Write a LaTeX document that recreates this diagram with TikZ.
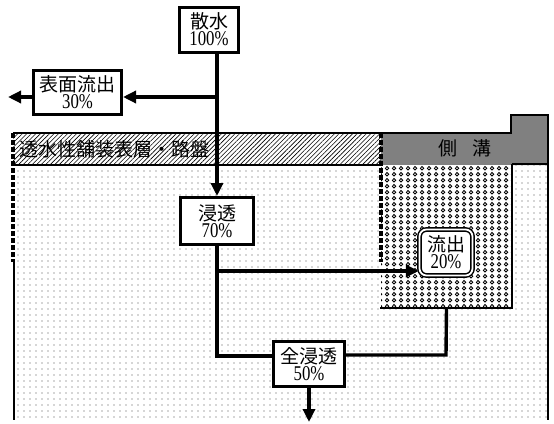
\documentclass[tikz,border=0pt]{standalone}
\usepackage{fontspec}
\usetikzlibrary{arrows.meta,patterns,patterns.meta}
\newfontfamily\jp{Noto Sans CJK JP}
\newfontfamily\numf[FakeStretch=0.8]{Liberation Serif}
\tikzdeclarepattern{
  name=rings,
  type=colored,
  bounding box={(0pt,0pt) and (6.5pt,5.7pt)},
  tile size={(6.5pt,5.7pt)},
  code={\draw[black,line width=0.9pt] (3.25pt,2.85pt) circle [radius=1.8pt];}
}
\begin{document}
\begin{tikzpicture}[x=1pt,y=-1pt,
  flow/.style={line width=3.4pt},
  arr/.style={-{Triangle[length=13pt,width=12pt]}},
  box/.style={draw,line width=3pt,fill=white,inner sep=0pt,align=center,
    font=\fontsize{19}{17}\selectfont},
  num/.style={},
  ryubox/.style={box,line width=1.5pt,double=white,double distance=1.8pt,rounded corners=7pt},
  dotfill/.style={pattern={Dots[distance=6pt,radius=0.55pt]},pattern color=black!70},
  hatchfill/.style={pattern={Lines[angle=45,distance=3.2pt,line width=0.6pt]},pattern color=black},
  edge/.style={line width=2.6pt},
  cutedge/.style={line width=3.2pt,dash pattern=on 5pt off 2pt}
]
\useasboundingbox (0,0) rectangle (554,423);
% ground / layers
\fill[dotfill] (14,165) rectangle (548,418);
\fill[hatchfill] (13,133) rectangle (381,165);
\fill[black!50] (381,133) -- (511,133) -- (511,115) -- (548,115) -- (548,165) -- (381,165) -- cycle;
\node[minimum width=131pt,minimum height=143pt,inner sep=0pt,
  preaction={fill=white},pattern=rings] (gutter) at (446.5,236.5) {};
% outlines
\draw[edge] (13,133) -- (511,133) -- (511,115) -- (548,115) -- (548,420);
\draw[line width=2pt] (13,165) -- (381,165);
\draw[line width=2pt] (512,164) -- (548,164);
\draw[cutedge] (13,133) -- (13,262);
\draw[line width=2.2pt] (14,260) -- (14,420);
\draw[cutedge] (381,133) -- (381,262);
\draw[edge] (512,164) -- (512,308) -- (380,308);
% labels of the layers
\node[anchor=west,inner sep=0pt,font=\fontsize{19}{19}\jp] (layer) at (19,149) {透水性舗装表層・路盤};
\node[inner sep=0pt,font=\fontsize{19}{19}\jp] (sokko) at (465,148) {側\hspace{15pt}溝};
% boxes
\node[box,minimum width=59pt,minimum height=45pt] (sansui) at (209,29.5) {{\jp 散水}\\{\numf\fontsize{21}{17}\selectfont 100\%}};
\node[box,minimum width=88pt,minimum height=44pt] (hyomen) at (77.5,92.5) {{\jp 表面流出}\\{\numf\fontsize{21}{17}\selectfont 30\%}};
\node[box,minimum width=73pt,minimum height=47pt] (shinto) at (217,221) {{\jp 浸透}\\{\numf\fontsize{21}{17}\selectfont 70\%}};
\node[ryubox,minimum width=53pt,minimum height=46pt] (ryu) at (446,252.5) {{\jp 流出}\\{\numf\fontsize{21}{17}\selectfont 20\%}};
\node[box,minimum width=71pt,minimum height=45pt] (zen) at (309,364) {{\jp 全浸透}\\{\numf\fontsize{21}{17}\selectfont 50\%}};
% connectors
\draw[flow,arr] (shinto.north |- sansui.south) -- (shinto.north);
\coordinate (br1) at (217,97);
\draw[flow,arr] (br1) -- (br1 -| hyomen.east);
\coordinate (out1) at (8,97);
\draw[flow,arr] (hyomen.west |- out1) -- (out1);
\coordinate (j1) at (217,356);
\draw[flow] (shinto.south) -- (j1) -- (j1 -| zen.west);
\coordinate (br2) at (217,271);
\draw[flow,arr] (br2) -- (br2 -| ryu.west);
\coordinate (j2) at (446,355);
\draw[flow] (gutter.south) -- (j2) -- (j2 -| zen.east);
\coordinate (out2) at (309,422);
\draw[flow,arr] (zen.south) -- (out2);
\end{tikzpicture}
\end{document}
